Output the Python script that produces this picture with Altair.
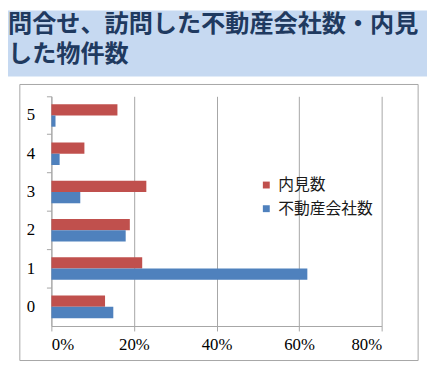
import altair as alt
import pandas as pd

categories = ["0", "1", "2", "3", "4", "5"]
series_names = ["内見数", "不動産会社数"]
naiken = [0.13, 0.22, 0.19, 0.23, 0.08, 0.16]
fudosan = [0.15, 0.62, 0.18, 0.07, 0.02, 0.01]
x_ticks = [0, 0.2, 0.4, 0.6, 0.8]
title_lines = ["問合せ、訪問した不動産会社数・内見", "した物件数"]

rows = []
for c, a, b in zip(categories, naiken, fudosan):
    rows.append({"cat": c, "series": series_names[0], "value": a})
    rows.append({"cat": c, "series": series_names[1], "value": b})
df = pd.DataFrame(rows)

W, H = 335, 233
one = pd.DataFrame({"a": [0]})

band = alt.Chart(one).mark_rect(color="#c6d9f1").encode(
    x=alt.value(-44), x2=alt.value(381), y=alt.value(-87), y2=alt.value(-20)
)
box = alt.Chart(one).mark_rect(filled=False, stroke="#a6a6a6", strokeWidth=1).encode(
    x=alt.value(-32), x2=alt.value(372), y=alt.value(-12), y2=alt.value(268)
)
t1 = alt.Chart(one).mark_text(
    text=title_lines[0], font="Noto Sans CJK JP", fontWeight="bold", fontSize=24.5,
    color="#1f3a60", align="left", baseline="middle"
).encode(x=alt.value(-44), y=alt.value(-72))
t2 = alt.Chart(one).mark_text(
    text=title_lines[1], font="Noto Sans CJK JP", fontWeight="bold", fontSize=24.5,
    color="#1f3a60", align="left", baseline="middle"
).encode(x=alt.value(-44), y=alt.value(-42))

bars = alt.Chart(df).mark_bar().encode(
    x=alt.X("value:Q", scale=alt.Scale(domain=[0, 0.8]),
            axis=alt.Axis(values=x_ticks, format="%", title=None, grid=True,
                          gridColor="#a6a6a6", domainColor="#a6a6a6", tickColor="#a6a6a6",
                          tickSize=5, labelFont="Liberation Serif", labelFontSize=17,
                          labelColor="#000000", labelPadding=6)),
    y=alt.Y("cat:O", sort=categories[::-1],
            scale=alt.Scale(paddingInner=0, paddingOuter=0),
            axis=alt.Axis(title=None, bandPosition=0, labelAngle=0, grid=False,
                          domainColor="#a6a6a6", tickColor="#a6a6a6", tickSize=5,
                          labelFont="Liberation Serif", labelFontSize=17,
                          labelColor="#000000", labelPadding=12)),
    yOffset=alt.YOffset("series:N", sort=series_names,
                        scale=alt.Scale(paddingInner=0, paddingOuter=0.7)),
    color=alt.Color("series:N", sort=series_names,
                    scale=alt.Scale(domain=series_names, range=["#c0504d", "#4f81bd"]),
                    legend=alt.Legend(title=None, orient="none", legendX=210, legendY=82,
                                      symbolType="square", symbolSize=49,
                                      symbolStrokeWidth=0, labelFont="Noto Sans CJK JP",
                                      labelFontSize=16, labelColor="#1a1a1a",
                                      labelOffset=4, rowPadding=8)),
)

chart = alt.layer(band, box, t1, t2, bars).properties(
    width=W, height=H,
    autosize=alt.AutoSizeParams(type="none"),
    padding={"left": 44, "top": 87, "right": 46, "bottom": 39},
    background="white",
).configure_view(strokeWidth=0)

chart.save("out.html", embed_options={"renderer": "svg", "actions": False})
